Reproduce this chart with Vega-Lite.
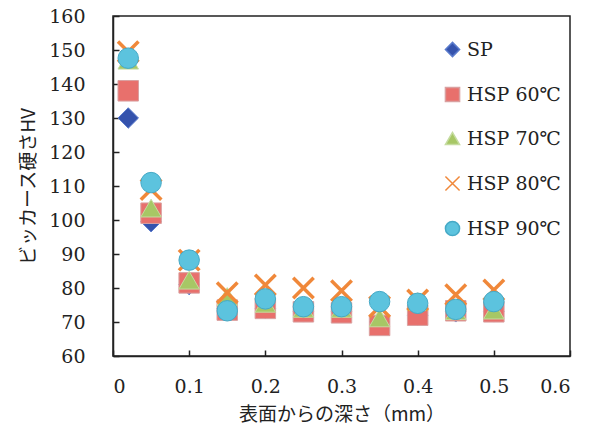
{
  "$schema": "https://vega.github.io/schema/vega-lite/v6.json",
  "width": 457,
  "height": 340,
  "autosize": "none",
  "padding": {"left": 113, "top": 16, "right": 29, "bottom": 78},
  "background": "white",
  "config": {
    "view": {"stroke": "#222", "strokeWidth": 1.5},
    "axis": {
      "grid": false,
      "domainColor": "#222",
      "domainWidth": 1.5,
      "tickColor": "#222",
      "tickWidth": 1.5,
      "labelFont": "DejaVu Serif, Liberation Serif, serif",
      "labelFontSize": 19,
      "labelColor": "#222",
      "titleFont": "Noto Sans CJK JP",
      "titleFontSize": 19,
      "titleFontWeight": "normal",
      "titleColor": "#222"
    }
  },
  "data": {
    "values": [
      {"d": 0.02, "s": "SP", "hv": 130},
      {"d": 0.05, "s": "SP", "hv": 99.5},
      {"d": 0.1, "s": "SP", "hv": 81},
      {"d": 0.15, "s": "SP", "hv": 74},
      {"d": 0.2, "s": "SP", "hv": 74},
      {"d": 0.25, "s": "SP", "hv": 73},
      {"d": 0.3, "s": "SP", "hv": 73},
      {"d": 0.35, "s": "SP", "hv": 70},
      {"d": 0.4, "s": "SP", "hv": 72},
      {"d": 0.45, "s": "SP", "hv": 73},
      {"d": 0.5, "s": "SP", "hv": 73},
      {"d": 0.02, "s": "HSP 60℃", "hv": 138},
      {"d": 0.05, "s": "HSP 60℃", "hv": 102},
      {"d": 0.1, "s": "HSP 60℃", "hv": 81.5},
      {"d": 0.15, "s": "HSP 60℃", "hv": 73.5},
      {"d": 0.2, "s": "HSP 60℃", "hv": 74},
      {"d": 0.25, "s": "HSP 60℃", "hv": 73},
      {"d": 0.3, "s": "HSP 60℃", "hv": 72.7},
      {"d": 0.35, "s": "HSP 60℃", "hv": 69},
      {"d": 0.4, "s": "HSP 60℃", "hv": 72},
      {"d": 0.45, "s": "HSP 60℃", "hv": 73.3},
      {"d": 0.5, "s": "HSP 60℃", "hv": 73},
      {"d": 0.02, "s": "HSP 70℃", "hv": 147},
      {"d": 0.05, "s": "HSP 70℃", "hv": 103.5},
      {"d": 0.1, "s": "HSP 70℃", "hv": 82.3},
      {"d": 0.15, "s": "HSP 70℃", "hv": 77.5},
      {"d": 0.2, "s": "HSP 70℃", "hv": 75.5},
      {"d": 0.25, "s": "HSP 70℃", "hv": 74},
      {"d": 0.3, "s": "HSP 70℃", "hv": 74},
      {"d": 0.35, "s": "HSP 70℃", "hv": 71.2},
      {"d": 0.4, "s": "HSP 70℃", "hv": 76},
      {"d": 0.45, "s": "HSP 70℃", "hv": 73.3},
      {"d": 0.5, "s": "HSP 70℃", "hv": 73.5},
      {"d": 0.02, "s": "HSP 80℃", "hv": 149.5},
      {"d": 0.05, "s": "HSP 80℃", "hv": 109},
      {"d": 0.1, "s": "HSP 80℃", "hv": 88.2},
      {"d": 0.15, "s": "HSP 80℃", "hv": 78.6},
      {"d": 0.2, "s": "HSP 80℃", "hv": 80.9},
      {"d": 0.25, "s": "HSP 80℃", "hv": 80},
      {"d": 0.3, "s": "HSP 80℃", "hv": 79.2},
      {"d": 0.35, "s": "HSP 80℃", "hv": 74.5},
      {"d": 0.4, "s": "HSP 80℃", "hv": 76.5},
      {"d": 0.45, "s": "HSP 80℃", "hv": 78},
      {"d": 0.5, "s": "HSP 80℃", "hv": 79.4},
      {"d": 0.02, "s": "HSP 90℃", "hv": 147.6},
      {"d": 0.05, "s": "HSP 90℃", "hv": 111},
      {"d": 0.1, "s": "HSP 90℃", "hv": 88.2},
      {"d": 0.15, "s": "HSP 90℃", "hv": 73.3},
      {"d": 0.2, "s": "HSP 90℃", "hv": 76.8},
      {"d": 0.25, "s": "HSP 90℃", "hv": 74.5},
      {"d": 0.3, "s": "HSP 90℃", "hv": 74.5},
      {"d": 0.35, "s": "HSP 90℃", "hv": 76},
      {"d": 0.4, "s": "HSP 90℃", "hv": 75.5},
      {"d": 0.45, "s": "HSP 90℃", "hv": 73.7},
      {"d": 0.5, "s": "HSP 90℃", "hv": 76}
    ]
  },
  "mark": {"type": "point", "opacity": 1, "filled": false},
  "encoding": {
    "x": {
      "field": "d", "type": "quantitative",
      "scale": {"domain": [0, 0.6], "nice": false},
      "axis": {"values": [0, 0.1, 0.2, 0.3, 0.4, 0.5, 0.6], "format": ".1~f", "tickSize": -6, "labelPadding": 27, "title": "表面からの深さ（mm）", "titlePadding": 9}
    },
    "y": {
      "field": "hv", "type": "quantitative",
      "scale": {"domain": [60, 160], "nice": false, "zero": false},
      "axis": {"values": [60, 70, 80, 90, 100, 110, 120, 130, 140, 150, 160], "tickSize": -6, "labelPadding": 34, "title": "ビッカース硬さHV", "titlePadding": 10}
    },
    "shape": {
      "field": "s", "type": "nominal",
      "scale": {
        "domain": ["SP", "HSP 60℃", "HSP 70℃", "HSP 80℃", "HSP 90℃"],
        "range": ["diamond", "square", "triangle-up", "M-1,-1L1,1M1,-1L-1,1", "circle"]
      },
      "legend": {
        "title": null,
        "orient": "none",
        "legendX": 330,
        "legendY": 24,
        "labelFont": "DejaVu Serif, Liberation Serif, serif",
        "labelFontSize": 19,
        "labelColor": "#222",
        "symbolSize": 200,
        "rowPadding": 24,
        "labelOffset": 5,
        "symbolOpacity": 1,
        "encode": {
          "symbols": {"update": {"strokeWidth": {"signal": "datum.label === 'HSP 80℃' ? 3 : 1"}}}
        }
      }
    },
    "fill": {
      "field": "s", "type": "nominal",
      "scale": {
        "domain": ["SP", "HSP 60℃", "HSP 70℃", "HSP 80℃", "HSP 90℃"],
        "range": ["#3553ad", "#e8706c", "#a7c765", "transparent", "#5cc3de"]
      }
    },
    "stroke": {
      "field": "s", "type": "nominal",
      "scale": {
        "domain": ["SP", "HSP 60℃", "HSP 70℃", "HSP 80℃", "HSP 90℃"],
        "range": ["#5a7bcc", "#d9a0a0", "#c5dca0", "#f0883a", "#45a9c6"]
      }
    },
    "strokeWidth": {
      "condition": {"test": "datum.s === 'HSP 80℃'", "value": 3.5},
      "value": 1
    },
    "size": {"value": 420}
  }
}
